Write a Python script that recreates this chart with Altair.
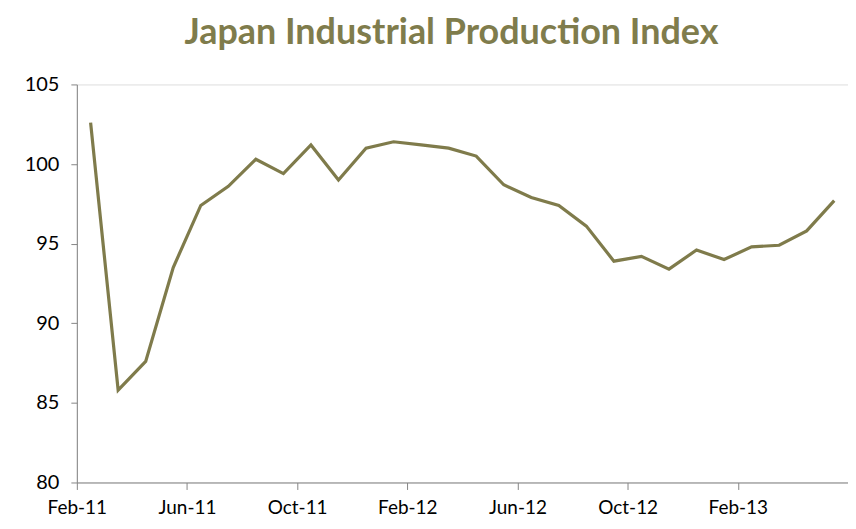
import altair as alt
import pandas as pd

months = ["Feb-11", "Mar-11", "Apr-11", "May-11", "Jun-11", "Jul-11", "Aug-11",
          "Sep-11", "Oct-11", "Nov-11", "Dec-11", "Jan-12", "Feb-12", "Mar-12",
          "Apr-12", "May-12", "Jun-12", "Jul-12", "Aug-12", "Sep-12", "Oct-12",
          "Nov-12", "Dec-12", "Jan-13", "Feb-13", "Mar-13", "Apr-13", "May-13"]
values = [102.6, 85.8, 87.6, 93.5, 97.4, 98.6, 100.3, 99.4, 101.2, 99.0, 101.0,
          101.4, 101.2, 101.0, 100.5, 98.7, 97.9, 97.4, 96.1, 93.9, 94.2, 93.4,
          94.6, 94.0, 94.8, 94.9, 95.8, 97.7]
tick_labels = ["Feb-11", "Jun-11", "Oct-11", "Feb-12", "Jun-12", "Oct-12", "Feb-13"]

df = pd.DataFrame({
    "month": months,
    "pos": [i + 0.5 for i in range(len(months))],
    "value": values,
})

W = 773
H = 399
n = len(months)
half = W / n / 2

label_vals = [i * 4 + 0.5 for i in range(len(tick_labels))]
label_expr = "[" + ",".join(f"'{t}'" for t in tick_labels) + "][floor(datum.value / 4)]"

chart = alt.Chart(df).mark_line(color="#7f7b4b", strokeWidth=3.2).encode(
    x=alt.X("pos:Q",
            scale=alt.Scale(domain=[0, n], nice=False, zero=False),
            axis=alt.Axis(values=label_vals, labelExpr=label_expr, title=None,
                          grid=False, tickOffset=-half, tickSize=7,
                          labelPadding=9, labelFontSize=19, labelColor="#000000",
                          labelFont="Lato", domainColor="#868686", tickColor="#868686",
                          labelFlush=False)),
    y=alt.Y("value:Q",
            scale=alt.Scale(domain=[80, 105], nice=False, zero=False),
            axis=alt.Axis(values=[80, 85, 90, 95, 100, 105], title=None, grid=False,
                          tickSize=6, labelPadding=12, labelFontSize=20,
                          labelColor="#000000", labelFont="Lato",
                          domainColor="#868686", tickColor="#868686")),
    tooltip=["month", "value"],
).properties(
    width=W,
    height=H,
    title=alt.TitleParams("Japan Industrial Production Index", font="Lato",
                          fontSize=36, fontWeight="bold", color="#7f7c4c",
                          anchor="middle", dx=-11, offset=23),
    autosize=alt.AutoSizeParams(type="none"),
    padding={"left": 69, "top": 76, "right": 0, "bottom": 38},
).configure_view(stroke=None).configure(background="#ffffff")

chart.save("out.html", embed_options={"renderer": "svg", "actions": False})
